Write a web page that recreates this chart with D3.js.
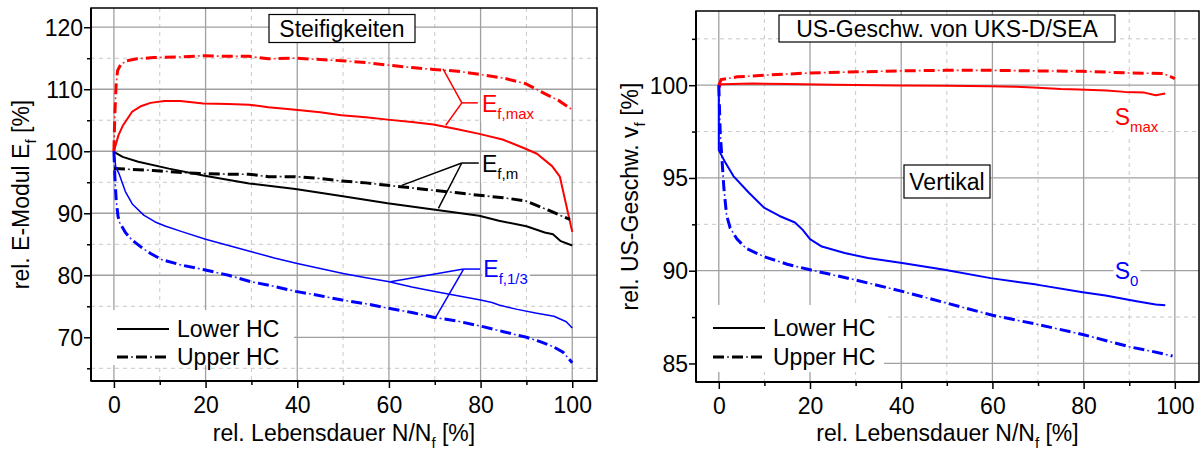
<!DOCTYPE html>
<html><head><meta charset="utf-8">
<script src="https://cdn.jsdelivr.net/npm/d3@7"></script>
<style>html,body{margin:0;padding:0;background:#fff;} svg{display:block;font-family:"Liberation Sans",Arial,sans-serif;}</style>
</head><body><svg id="c" width="1202" height="452"></svg>
<script>
// ---------- data ----------
const xTicks = [0, 20, 40, 60, 80, 100];
const xMinor = [10, 30, 50, 70, 90];
const leftYTicks = [70, 80, 90, 100, 110, 120];
const leftYMinor = [65, 75, 85, 95, 105, 115];
const rightYTicks = [85, 90, 95, 100];
const rightYMinor = [87.5, 92.5, 97.5, 102.5];

const efMaxLower = [[0,100],[1,102.6],[2,104.2],[4,106.4],[6,107.3],[8,107.8],[11,108.1],[14.5,108.1],[19.5,107.7],[25,107.6],[29.5,107.5],[33.7,107.1],[39.6,106.7],[45,106.3],[49.6,105.8],[55,105.5],[59.7,105.1],[65,104.7],[69.7,104.3],[74.7,103.6],[79.7,102.8],[84.8,101.9],[89.8,100.4],[92.3,99.6],[95.6,97.6],[97.3,95.9],[100,87]];
const efMaxUpper = [[0,100],[0.2,106],[0.5,110.9],[0.8,113],[1.5,114],[2.8,114.6],[5,114.9],[8.6,115.1],[14,115.2],[19.5,115.4],[25,115.3],[29.5,115.3],[33.7,114.9],[39.6,115],[45,114.8],[49.6,114.6],[55,114.3],[59.7,113.9],[65,113.5],[69.7,113.2],[75,112.9],[79.7,112.4],[85,111.8],[89.8,110.9],[94,109.3],[97,108.2],[100,106.7]];
const efMLower = [[0,99.9],[1.9,99.1],[5.3,98.3],[12,97.2],[19.5,96.1],[29.5,94.8],[39.6,93.9],[49.6,92.8],[59.7,91.6],[69.7,90.6],[79.7,89.6],[84,88.8],[90,87.9],[94,86.9],[95.8,86.6],[97.5,85.5],[100,84.8]];
const efMUpper = [[0,97.2],[3,97.1],[8.6,96.9],[14,96.6],[19.5,96.4],[25,96.3],[29.5,96.3],[33.7,95.9],[39.6,95.9],[45,95.6],[49.6,95.2],[55,94.9],[59.7,94.5],[65,94.1],[69.7,93.7],[75,93.3],[79.7,92.9],[85,92.5],[89.8,92],[94.8,90.5],[98.2,89.4],[99.5,89.0]];
const ef13Lower = [[0,100],[0.4,97.5],[1.1,96.4],[2.5,93.5],[4,91.5],[6.5,89.7],[9,88.6],[11.3,87.9],[15,87],[20,85.8],[25,84.8],[30,83.8],[35,82.8],[40,81.9],[45,81.1],[50,80.3],[55,79.6],[59.8,79.0],[65,78.1],[70,77.4],[75,76.7],[80,76],[82.5,75.6],[84,75.2],[88,74.5],[92,73.9],[96,73.4],[98.7,72.5],[100,71.5]];
const ef13Upper = [[0,100],[0.2,96],[0.5,92],[0.9,89.5],[1.25,88.5],[2.5,86.9],[3.8,85.8],[6,84.5],[8,83.5],[10.5,82.5],[15,81.6],[19.7,80.9],[25,80],[29.7,79],[35,78.2],[39.7,77.4],[45,76.7],[49.8,76],[55,75.4],[59.8,74.7],[65,74],[69.9,73.2],[75,72.6],[80,71.8],[85,70.9],[90,70],[93,69.3],[95.8,68.5],[98,67.6],[100,65.9]];

const sMaxLower = [[0,99.8],[0.5,100.05],[3,100.07],[7.4,100.09],[15,100.06],[25,100.03],[39.4,99.98],[50,99.97],[59.6,99.95],[65,99.92],[68.9,99.88],[75,99.8],[79,99.77],[85,99.72],[89,99.64],[93.3,99.6],[95.8,99.46],[97.9,99.55]];
const sMaxUpper = [[0,100],[0.5,100.3],[4,100.45],[10,100.54],[20,100.66],[28.5,100.71],[39.4,100.77],[49.5,100.8],[59.6,100.8],[69.7,100.77],[79.8,100.75],[89.9,100.66],[97.5,100.63],[100,100.36]];
const s0Lower = [[0,100],[0,96.5],[1.5,95.8],[3.2,95.1],[6.6,94.2],[9.9,93.4],[13.3,92.95],[16.7,92.6],[18.4,92.2],[20,91.7],[22.6,91.3],[27.6,90.95],[32.7,90.68],[40.2,90.41],[49.5,90.05],[59.6,89.6],[69.7,89.25],[79.8,88.84],[84.8,88.66],[91.6,88.35],[95.8,88.18],[97.9,88.14]];
const s0Upper = [[0,100],[0.3,97.5],[0.7,96],[1.1,94.5],[1.7,93],[2.5,92.3],[4,91.7],[6,91.2],[10,90.75],[15,90.35],[20,90.05],[30,89.5],[40,88.9],[50,88.25],[60,87.6],[70,87.1],[80,86.55],[90,85.9],[95,85.65],[99.5,85.4]];

const legendLabels = ["Lower HC", "Upper HC"];

// ---------- styles ----------
const RED = "#ff0000", BLUE = "#0000ff", BLACK = "#000";
const FS = 23;

const svg = d3.select("#c");

// dash-dot: thick dashes plus thin dots in the gaps
function dashDot(sel, d, color) {
  sel.append("path").attr("d", d).attr("fill", "none").attr("stroke", color)
    .attr("stroke-width", 3).attr("stroke-dasharray", "11,8");
  sel.append("path").attr("d", d).attr("fill", "none").attr("stroke", color)
    .attr("stroke-width", 1.6).attr("stroke-dasharray", "2,17").attr("stroke-dashoffset", -14).attr("opacity", 0.8);
}

function panel(cfg) {
  const x = d3.scaleLinear().domain(cfg.xDomain).range([cfg.left, cfg.right]);
  const y = d3.scaleLinear().domain(cfg.yDomain).range([cfg.bottom, cfg.top]);
  const g = svg.append("g");
  const clipId = "clip" + cfg.id;
  g.append("clipPath").attr("id", clipId).append("rect")
    .attr("x", cfg.left).attr("y", cfg.top).attr("width", cfg.right - cfg.left).attr("height", cfg.bottom - cfg.top);

  // grid
  const grid = g.append("g");
  grid.selectAll(".gxm").data(xMinor).join("line")
    .attr("x1", d => x(d)).attr("x2", d => x(d)).attr("y1", cfg.top).attr("y2", cfg.bottom)
    .attr("stroke", "#c8c8c8").attr("stroke-width", 1).attr("stroke-dasharray", "4,4");
  grid.selectAll(".gym").data(cfg.yMinor).join("line")
    .attr("y1", d => y(d)).attr("y2", d => y(d)).attr("x1", cfg.left).attr("x2", cfg.right)
    .attr("stroke", "#c8c8c8").attr("stroke-width", 1).attr("stroke-dasharray", "4,4");
  grid.selectAll(".gx").data(xTicks).join("line")
    .attr("x1", d => x(d)).attr("x2", d => x(d)).attr("y1", cfg.top).attr("y2", cfg.bottom)
    .attr("stroke", "#a0a0a0").attr("stroke-width", 1.3);
  grid.selectAll(".gy").data(cfg.yTicks).join("line")
    .attr("y1", d => y(d)).attr("y2", d => y(d)).attr("x1", cfg.left).attr("x2", cfg.right)
    .attr("stroke", "#a0a0a0").attr("stroke-width", 1.3);

  // legend background
  g.append("rect").attr("x", cfg.left + 1).attr("y", cfg.legend.top)
    .attr("width", cfg.legend.width).attr("height", cfg.legend.height).attr("fill", "#fff");

  // series
  const line = d3.line().x(d => x(d[0])).y(d => y(d[1]));
  const sg = g.append("g").attr("clip-path", `url(#${clipId})`);
  cfg.series.forEach(s => {
    if (s.dashed) { dashDot(sg, line(s.data), s.color); return; }
    sg.append("path").attr("d", line(s.data)).attr("fill", "none")
      .attr("stroke", s.color).attr("stroke-width", s.width || 2)
      .attr("stroke-linejoin", "round");
  });

  // annotations
  cfg.notes.forEach(n => {
    const ag = g.append("g");
    if (n.j) {
      const jx = x(n.j[0]), jy = y(n.j[1]);
      n.to.forEach(p => ag.append("line").attr("x1", jx).attr("y1", jy).attr("x2", x(p[0])).attr("y2", y(p[1]))
        .attr("stroke", n.color).attr("stroke-width", 1.5));
      ag.append("line").attr("x1", jx).attr("y1", jy).attr("x2", x(n.hEnd)).attr("y2", jy)
        .attr("stroke", n.color).attr("stroke-width", 1.5);
    }
    const tx = x(n.label[0]), ty = y(n.label[1]);
    const t = ag.append("text").attr("x", tx).attr("y", ty + 8).attr("fill", n.color).attr("font-size", FS);
    t.append("tspan").text(n.main);
    t.append("tspan").attr("font-size", 15).attr("dy", 7).text(n.sub);
    const bb = t.node().getBBox();
    ag.insert("rect", "text").attr("x", bb.x - 1).attr("y", bb.y + 2).attr("width", bb.width + 3).attr("height", bb.height - 2).attr("fill", "#fff");
  });

  // legend entries
  legendLabels.forEach((lab, i) => {
    const ly = cfg.legend.rows[i];
    const sample = `M${cfg.legend.x1},${ly}H${cfg.legend.x2}`;
    if (i === 0) {
      g.append("path").attr("d", sample).attr("stroke", BLACK).attr("stroke-width", 2);
    } else {
      dashDot(g, sample, BLACK);
    }
    g.append("text").attr("x", cfg.legend.x2 + 8).attr("y", ly + 8).attr("font-size", FS).text(lab);
  });

  // boxes
  cfg.boxes.forEach(b => {
    const t = g.append("text").attr("x", b.cx).attr("y", b.cy + 8).attr("text-anchor", "middle")
      .attr("font-size", FS).text(b.text);
    g.insert("rect", () => t.node()).attr("x", b.cx - b.w / 2).attr("y", b.cy - b.h / 2)
      .attr("width", b.w).attr("height", b.h).attr("fill", "#fff").attr("stroke", "#000").attr("stroke-width", 1.2);
  });

  // frame
  g.append("rect").attr("x", cfg.left).attr("y", cfg.top).attr("width", cfg.right - cfg.left)
    .attr("height", cfg.bottom - cfg.top).attr("fill", "none").attr("stroke", "#000").attr("stroke-width", 1.5);
  g.append("line").attr("x1", cfg.left).attr("x2", cfg.right).attr("y1", cfg.bottom).attr("y2", cfg.bottom)
    .attr("stroke", "#000").attr("stroke-width", 2);
  g.append("line").attr("x1", cfg.left).attr("x2", cfg.left).attr("y1", cfg.top).attr("y2", cfg.bottom)
    .attr("stroke", "#000").attr("stroke-width", 2);

  // axes ticks
  const xa = g.append("g").attr("transform", `translate(0,${cfg.bottom})`)
    .call(d3.axisBottom(x).tickValues(xTicks).tickSize(7).tickSizeOuter(0).tickFormat(d3.format("d")));
  const xam = g.append("g").attr("transform", `translate(0,${cfg.bottom})`)
    .call(d3.axisBottom(x).tickValues(xMinor).tickSize(4).tickSizeOuter(0).tickFormat(""));
  const ya = g.append("g").attr("transform", `translate(${cfg.left},0)`)
    .call(d3.axisLeft(y).tickValues(cfg.yTicks).tickSize(7).tickSizeOuter(0).tickFormat(d3.format("d")));
  const yam = g.append("g").attr("transform", `translate(${cfg.left},0)`)
    .call(d3.axisLeft(y).tickValues(cfg.yMinor).tickSize(4).tickSizeOuter(0).tickFormat(""));
  [xa, xam, ya, yam].forEach(a => {
    a.select(".domain").remove();
    a.selectAll(".tick line").attr("stroke", "#000").attr("stroke-width", 1.5);
    a.selectAll("text").attr("font-size", FS).attr("font-family", "Liberation Sans, Arial, sans-serif").attr("fill", "#000");
  });
  xa.selectAll("text").attr("dy", null).attr("y", 32);
  ya.selectAll("text").attr("dy", null).attr("x", -8).attr("y", 8);

  // axis titles
  const xt = g.append("text").attr("x", (cfg.left + cfg.right) / 2).attr("y", 441)
    .attr("text-anchor", "middle").attr("font-size", FS);
  xt.append("tspan").text("rel. Lebensdauer N/N");
  xt.append("tspan").attr("font-size", 15).attr("dy", 7).text("f");
  xt.append("tspan").attr("dy", -7).text(" [%]");

  const yt = g.append("text").attr("transform", `translate(${cfg.yTitleX},${(cfg.top + cfg.bottom) / 2}) rotate(-90)`)
    .attr("text-anchor", "middle").attr("font-size", FS);
  yt.append("tspan").text(cfg.yTitle[0]);
  yt.append("tspan").attr("font-size", 15).attr("dy", 7).text(cfg.yTitle[1]);
  yt.append("tspan").attr("dy", -7).text(cfg.yTitle[2]);
}

panel({
  id: "L", left: 91, right: 597, top: 8, bottom: 381,
  xDomain: [-5, 105.4], yDomain: [62.95, 123.1],
  yTicks: leftYTicks, yMinor: leftYMinor,
  yTitleX: 29, yTitle: ["rel. E-Modul E", "f", " [%]"],
  legend: { top: 310, width: 202, height: 55, rows: [329, 357], x1: 117, x2: 169 },
  series: [
    { data: efMaxUpper, color: RED, dashed: true },
    { data: efMaxLower, color: RED },
    { data: efMUpper, color: BLACK, dashed: true },
    { data: efMLower, color: BLACK },
    { data: ef13Upper, color: BLUE, dashed: true },
    { data: ef13Lower, color: BLUE, width: 1.5 }
  ],
  notes: [
    { j: [75.9, 107.8], hEnd: 79.4, to: [[71.8, 113.3], [72.4, 104.2]], label: [80.3, 107.6], main: "E", sub: "f,max", color: RED },
    { j: [75.9, 98.1], hEnd: 79.6, to: [[62.8, 94.5], [70.8, 90.8]], label: [80.3, 97.9], main: "E", sub: "f,m", color: BLACK },
    { j: [76.3, 81.0], hEnd: 79.9, to: [[60.3, 78.95], [70.2, 73.2]], label: [80.6, 81.0], main: "E", sub: "f,1/3", color: BLUE }
  ],
  boxes: [{ cx: 342, cy: 28.5, w: 146, h: 28, text: "Steifigkeiten" }]
});

panel({
  id: "R", left: 696, right: 1199, top: 11, bottom: 382,
  xDomain: [-5, 105.3], yDomain: [84.0, 104.0],
  yTicks: rightYTicks, yMinor: rightYMinor,
  yTitleX: 638, yTitle: ["rel. US-Geschw. v", "f", " [%]"],
  legend: { top: 305, width: 187, height: 67, rows: [328, 357], x1: 713, x2: 765 },
  series: [
    { data: sMaxUpper, color: RED, dashed: true },
    { data: sMaxLower, color: RED },
    { data: s0Upper, color: BLUE, dashed: true },
    { data: s0Lower, color: BLUE }
  ],
  notes: [
    { j: null, to: [], label: [86.8, 98.3], main: "S", sub: "max", color: RED },
    { j: null, to: [], label: [86.8, 90.0], main: "S", sub: "0", color: BLUE }
  ],
  boxes: [
    { cx: 947, cy: 28.5, w: 336, h: 27, text: "US-Geschw. von UKS-D/SEA" },
    { cx: 947, cy: 181.5, w: 86, h: 33, text: "Vertikal" }
  ]
});
</script></body></html>
